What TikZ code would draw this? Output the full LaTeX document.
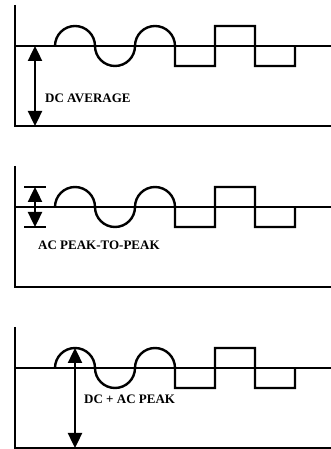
\documentclass[tikz,border=0pt]{standalone}
\usepackage{fontspec}
\setmainfont{Liberation Serif}
\usetikzlibrary{arrows.meta}

\begin{document}
\begin{tikzpicture}[
  x=1pt, y=1pt,
  line width=2.4pt,
  txt/.style={font=\bfseries\fontsize{13}{15}\selectfont, anchor=west, inner sep=0pt},
  dim/.style={{Triangle[length=15pt,width=14pt]}-{Triangle[length=15pt,width=14pt]}},
  waveform/.pic={
    \draw (15,41) -- (15,-80) -- (331,-80);
    \draw (15,0) -- (331,0);
    \draw (55,0) arc[start angle=180, end angle=0, radius=20pt]
                 arc[start angle=180, end angle=360, radius=20pt]
                 arc[start angle=180, end angle=0, radius=20pt]
          -- (175,-20) -- (215,-20) -- (215,20) -- (255,20)
          -- (255,-20) -- (295,-20) -- (295,0);
  }
]
\useasboundingbox (0,0) rectangle (331,449);

% DC average
\pic at (0,403) {waveform};
\coordinate (avg-top) at (35,403);
\coordinate (avg-bot) at (35,323);
\draw[dim] (avg-top) -- (avg-bot);
\node[txt] (avg-text) at (44,351) {DC AVERAGE};

% AC peak-to-peak
\pic at (0,242) {waveform};
\coordinate (pp-top) at (35,262);
\coordinate (pp-bot) at (35,222);
\draw (24,262) -- (46,262);
\draw (24,222) -- (46,222);
\draw[dim] (pp-top) -- (pp-bot);
\node[txt] (pp-text) at (37,204) {AC PEAK-TO-PEAK};

% DC + AC peak
\pic at (0,81) {waveform};
\coordinate (pk-top) at (75,101);
\coordinate (pk-bot) at (75,1);
\draw[dim] (pk-top) -- (pk-bot);
\node[txt] (pk-text) at (83,50) {DC + AC PEAK};
\end{tikzpicture}
\end{document}
